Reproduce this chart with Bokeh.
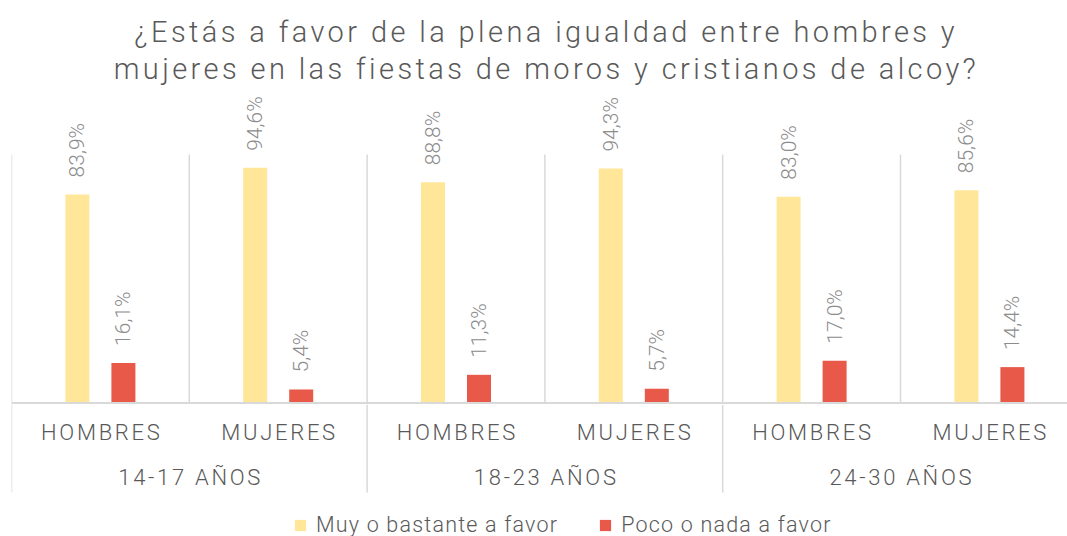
import math
from bokeh.plotting import figure
from bokeh.layouts import column
from bokeh.models import ColumnDataSource, Range1d, Legend, LegendItem, InlineStyleSheet
from bokeh.core.properties import value
from bokeh.embed import file_html
from bokeh.resources import INLINE

# ---------------- data ----------------
title_lines = ["¿Estás a favor de la plena igualdad entre hombres y",
               "mujeres en las fiestas de moros y cristianos de alcoy?"]
age_groups = ["14-17 AÑOS", "18-23 AÑOS", "24-30 AÑOS"]
genders = ["HOMBRES", "MUJERES"]
series_names = ["Muy o bastante a favor", "Poco o nada a favor"]
favor = [83.9, 94.6, 88.8, 94.3, 83.0, 85.6]
no_favor = [16.1, 5.4, 11.3, 5.7, 17.0, 14.4]
colors = ["#FFE699", "#E8594A"]

# ---------------- style / layout ----------------
FONT_NAME = "Roboto Light, Roboto"
FONT = value(FONT_NAME)
TEXT_DARK = "#595959"
TEXT_LIGHT = "#8C8C8C"
LINE = "#D9D9D9"
W = 1067
LEFT = 11
CAT_PX = 177.8
PX_PER_PCT = 2.485
H_TITLE, H_MAIN, H_AXIS, H_LEG = 88, 316, 92, 40
BASE_FROM_TOP = 314.4
TITLE_LS, AXIS_LS, LEG_LS = 3.4, 2.7, 1.2
BAR_OFF, BAR_W = 0.1294, 0.135

n_cat = len(genders) * len(age_groups)
cat_labels = [g for _ in age_groups for g in genders]
centers = [i + 0.5 for i in range(n_cat)]
group_centers = [len(genders) * (k + 0.5) for k in range(len(age_groups))]
bounds = list(range(n_cat + 1))
group_bounds = [len(genders) * k for k in range(len(age_groups) + 1)]

x_range = Range1d(0, (W - LEFT) / CAT_PX)


def base_fig(height, xr, yr, ls):
    p = figure(width=W, height=height, x_range=xr, y_range=yr, title=None,
               x_axis_type=None, y_axis_type=None, toolbar_location=None,
               output_backend="svg", min_border_left=LEFT, min_border_right=0,
               min_border_top=0, min_border_bottom=0)
    p.outline_line_color = None
    p.background_fill_color = "white"
    p.border_fill_color = "white"
    p.stylesheets = [InlineStyleSheet(css=":host { letter-spacing: %spx; }" % ls)]
    return p


def fmt(v):
    return ("%.1f" % v).replace(".", ",") + "%"


# ---------------- title ----------------
pa = base_fig(H_TITLE, Range1d(0, W - LEFT), Range1d(H_TITLE, 0), TITLE_LS)
tsrc = ColumnDataSource(dict(
    x=[533] * len(title_lines), y=[31, 68], text=title_lines,
    xo=[-(len(t) - 1) * TITLE_LS / 2 for t in title_lines]))
pa.text(x="x", y="y", text="text", source=tsrc, x_offset="xo",
        text_align="center", text_baseline="alphabetic",
        text_font=FONT, text_font_size="29px", text_color=TEXT_DARK)

# ---------------- main plot ----------------
y_end = BASE_FROM_TOP / PX_PER_PCT
y_start = -(H_MAIN - BASE_FROM_TOP) / PX_PER_PCT
pb = base_fig(H_MAIN, x_range, Range1d(y_start, y_end), 0)

pb.segment(x0=bounds, x1=bounds, y0=[0] * len(bounds), y1=[100] * len(bounds),
           line_color=LINE, line_width=1.5)
pb.segment(x0=group_bounds, x1=group_bounds, y0=[y_start] * len(group_bounds),
           y1=[0] * len(group_bounds), line_color=LINE, line_width=1.5)

src = ColumnDataSource(dict(
    x1=[c - BAR_OFF for c in centers], x2=[c + BAR_OFF for c in centers],
    fav=favor, nof=no_favor,
    lab1=[fmt(v) for v in favor], lab2=[fmt(v) for v in no_favor]))
r1 = pb.vbar(x="x1", top="fav", bottom=0, width=BAR_W, source=src,
             fill_color=colors[0], line_color=None)
r2 = pb.vbar(x="x2", top="nof", bottom=0, width=BAR_W, source=src,
             fill_color=colors[1], line_color=None)
pb.segment(x0=[0], x1=[n_cat], y0=[0], y1=[0], line_color=LINE, line_width=2)

for xc, yc, lc in (("x1", "fav", "lab1"), ("x2", "nof", "lab2")):
    pb.text(x=xc, y=yc, text=lc, source=src, angle=math.pi / 2,
            text_align="left", text_baseline="middle", y_offset=-17,
            text_font=FONT, text_font_size="21px", text_color=TEXT_LIGHT)

# ---------------- category axis ----------------
pc = base_fig(H_AXIS, x_range, Range1d(-H_AXIS, 0), AXIS_LS)
pc.segment(x0=group_bounds, x1=group_bounds, y0=[0] * len(group_bounds),
           y1=[-88] * len(group_bounds), line_color=LINE, line_width=1.5)
csrc = ColumnDataSource(dict(x=centers, y=[-27.5] * n_cat, text=cat_labels,
                             xo=[-(len(t) - 1) * AXIS_LS / 2 for t in cat_labels]))
pc.text(x="x", y="y", text="text", source=csrc, x_offset="xo",
        text_align="center", text_baseline="alphabetic",
        text_font=FONT, text_font_size="22px", text_color=TEXT_DARK)
gsrc = ColumnDataSource(dict(x=group_centers, y=[-73] * len(age_groups), text=age_groups,
                             xo=[-(len(t) - 1) * AXIS_LS / 2 for t in age_groups]))
pc.text(x="x", y="y", text="text", source=gsrc, x_offset="xo",
        text_align="center", text_baseline="alphabetic",
        text_font=FONT, text_font_size="22px", text_color=TEXT_DARK)

# ---------------- legend ----------------
pd_ = base_fig(H_LEG, x_range, Range1d(0, 1), LEG_LS)
d1 = pd_.vbar(x="x1", top="fav", width=BAR_W, source=src, fill_color=colors[0],
              line_color=None, visible=False)
d2 = pd_.vbar(x="x2", top="nof", width=BAR_W, source=src, fill_color=colors[1],
              line_color=None, visible=False)
legend = Legend(items=[LegendItem(label=series_names[0], renderers=[d1]),
                       LegendItem(label=series_names[1], renderers=[d2])],
                orientation="horizontal", location=(282, -1),
                glyph_width=14, glyph_height=14, label_standoff=9,
                spacing=40,
                padding=0, margin=0, border_line_color=None, background_fill_alpha=0,
                inactive_fill_alpha=0,
                label_text_font=FONT_NAME, label_text_font_size="21.5px",
                label_text_color=TEXT_DARK)
pd_.add_layout(legend, "center")

layout = column(pa, pb, pc, pd_, spacing=0)
open("out.html", "w").write(file_html(layout, INLINE))
